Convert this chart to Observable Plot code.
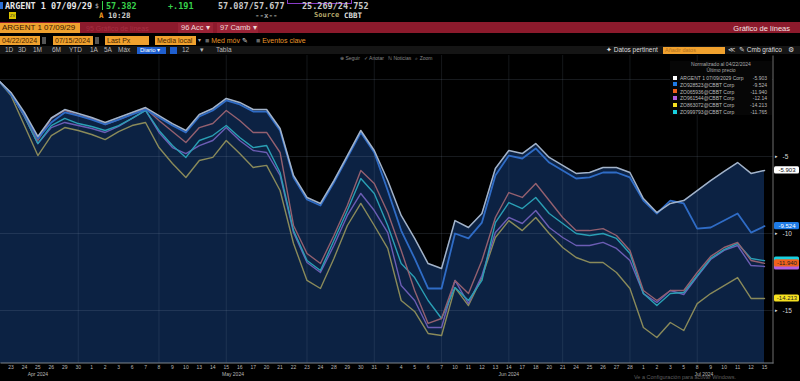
<!DOCTYPE html>
<html><head><meta charset="utf-8">
<script src="https://cdn.jsdelivr.net/npm/d3@7"></script>
<script src="https://cdn.jsdelivr.net/npm/@observablehq/plot@0.6"></script>
<style>
html,body{margin:0;padding:0;background:#000;}
body{width:800px;height:381px;overflow:hidden;position:relative;font-family:"Liberation Sans Narrow","Liberation Sans",Arial,sans-serif;}
.a{position:absolute;white-space:nowrap;line-height:1;}
.m{font-family:"DejaVu Sans Mono","Liberation Mono",monospace;font-weight:bold;font-size:8.5px;}
.ob{background:#f0a12e;color:#4a2600;font-size:7px;height:9px;line-height:9px;padding-left:2px;box-sizing:border-box;}
.t5{font-size:6.5px;color:#bbb;}
#chart{position:absolute;left:0;top:55px;}
#legend{position:absolute;left:670px;top:61px;width:102px;height:54px;background:#060606;font-size:5px;color:#bbb;}
#legend .r{position:absolute;left:3px;width:96px;height:6px;}
#legend .sq{position:absolute;left:0;top:0.5px;width:4px;height:4px;}
#legend .nm{position:absolute;left:7px;top:0;}
#legend .vl{position:absolute;right:2px;top:0;}
</style></head>
<body>
<!-- row 1 -->
<div class="a" style="left:0;top:2px;width:3px;height:7px;background:#2a6fd6"></div>
<div class="a m" style="left:5px;top:1.5px;color:#e6e6e6">ARGENT 1 07/09/29</div>
<div class="a m" style="left:95px;top:2.5px;color:#999;font-size:6.5px">$</div>
<div class="a" style="left:102px;top:1px;width:1px;height:9px;background:#37d14b"></div>
<div class="a m" style="left:106px;top:1.5px;color:#37d14b">57.382</div>
<div class="a m" style="left:168px;top:1.5px;color:#37d14b">+.191</div>
<div class="a m" style="left:218px;top:1.5px;color:#c8c8c8">57.087/57.677</div>
<div class="a" style="left:287px;top:-2px;width:63px;height:4px;border:1px solid #8a3cc8"></div>
<div class="a m" style="left:302px;top:1.5px;color:#c8c8c8">25.269/24.752</div>
<!-- row 2 -->
<div class="a" style="left:9px;top:12px;width:7px;height:7px;background:#d9c300;color:#333;font-size:4px;line-height:7px;text-align:center">ZV</div>
<div class="a m" style="left:99px;top:12px;color:#f09a20;font-size:7.5px">A</div>
<div class="a m" style="left:108px;top:12px;color:#cfcfcf;font-size:7.5px">10:28</div>
<div class="a m" style="left:255px;top:12px;color:#9a9a9a;font-size:7.5px">--x--</div>
<div class="a m" style="left:314px;top:12px;color:#b5a86a;font-size:7px">Source</div>
<div class="a m" style="left:344px;top:12px;color:#ddd;font-size:7.5px">CBBT</div>
<!-- row 3 red bar -->
<div class="a" style="left:0;top:22px;width:800px;height:11px;background:#8c1a2c"></div>
<div class="a ob" style="left:0;top:23px;width:80px;height:10px;line-height:10px;font-size:8px;color:#3a1a00">ARGENT 1 07/09/29</div>
<div class="a" style="left:86px;top:25px;font-size:7px;color:#a52f43">95 Gráfico de líneas</div>
<div class="a" style="left:178px;top:23px;width:35px;height:10px;background:#9a2336;color:#f0d8d8;font-size:7.5px;line-height:10px;padding-left:3px;box-sizing:border-box">96 Acc ▾</div>
<div class="a" style="left:217px;top:23px;width:41px;height:10px;background:#9a2336;color:#f0d8d8;font-size:7.5px;line-height:10px;padding-left:3px;box-sizing:border-box">97 Camb ▾</div>
<div class="a" style="right:10px;top:24.5px;font-size:7.5px;color:#f3e3e3">Gráfico de líneas</div>
<!-- row 4 -->
<div class="a ob" style="left:0;top:36px;width:40px">04/22/2024</div>
<div class="a" style="left:42px;top:37px;width:4px;height:7px;background:#555"></div>
<div class="a ob" style="left:53px;top:36px;width:40px">07/15/2024</div>
<div class="a" style="left:95px;top:37px;width:4px;height:7px;background:#555"></div>
<div class="a ob" style="left:105px;top:36px;width:44px">Last Px</div>
<div class="a ob" style="left:155px;top:36px;width:41px">Media local</div>
<div class="a" style="left:198px;top:37px;font-size:6px;color:#aaa">▾</div>
<div class="a" style="left:205px;top:37px;font-size:7px;color:#e8962a"><span style="color:#666">■</span> Med móv <span style="color:#ddd">✎</span></div>
<div class="a" style="left:256px;top:37px;font-size:7px;color:#e8962a"><span style="color:#666">■</span> Eventos clave</div>
<!-- row 5 -->
<div class="a" style="left:0;top:46px;width:800px;height:8px;background:#151515"></div>
<div class="a t5" style="left:5px;top:47px">1D</div>
<div class="a t5" style="left:18px;top:47px">3D</div>
<div class="a t5" style="left:33px;top:47px">1M</div>
<div class="a t5" style="left:52px;top:47px">6M</div>
<div class="a t5" style="left:69px;top:47px">YTD</div>
<div class="a t5" style="left:90px;top:47px">1A</div>
<div class="a t5" style="left:104px;top:47px">5A</div>
<div class="a t5" style="left:118px;top:47px">Máx</div>
<div class="a" style="left:137px;top:46.5px;width:29px;height:7px;background:#1f5fcf;color:#fff;font-size:6px;line-height:7px;padding-left:3px;box-sizing:border-box">Diario ▾</div>
<div class="a" style="left:170px;top:46.5px;width:7px;height:7px;background:#1f5fcf"></div>
<div class="a t5" style="left:182px;top:47px">12</div>
<div class="a t5" style="left:200px;top:47px">▾</div>
<div class="a t5" style="left:216px;top:47px">Tabla</div>
<div class="a t5" style="left:606px;top:47px;color:#ddd">✦ Datos pertinent</div>
<div class="a" style="left:663px;top:46.5px;width:62px;height:7px;background:#f0a12e;color:#b07020;font-size:5.5px;line-height:7px;padding-left:2px;box-sizing:border-box">Añadir datos</div>
<div class="a t5" style="left:728px;top:47px;color:#ddd">≪</div>
<div class="a t5" style="left:739px;top:47px;color:#ddd">✎ Cmb gráfico</div>
<div class="a t5" style="left:788px;top:47px;color:#ddd">⚙</div>

<div id="chart"></div>

<!-- row 6 toolbar over chart -->
<div class="a" style="left:340px;top:55.5px;font-size:5px;color:#888;z-index:3">⊕ Seguir &nbsp; ✓ Anotar &nbsp; ℕ Noticias &nbsp; ⌕ Zoom</div>
<div id="legend"></div>
<div class="a" style="left:634px;top:375px;font-size:5.5px;color:#5e5e5e;z-index:3">Ve a Configuración para activar Windows.</div>

<script>
// ---- data ----
const dates = [
"2024-04-22","2024-04-23","2024-04-24","2024-04-25","2024-04-26","2024-04-29","2024-04-30",
"2024-05-01","2024-05-02","2024-05-03","2024-05-06","2024-05-07","2024-05-08","2024-05-09","2024-05-10",
"2024-05-13","2024-05-14","2024-05-15","2024-05-16","2024-05-17","2024-05-20","2024-05-21","2024-05-22",
"2024-05-23","2024-05-24","2024-05-28","2024-05-29","2024-05-30","2024-05-31",
"2024-06-03","2024-06-04","2024-06-05","2024-06-06","2024-06-07","2024-06-10","2024-06-11","2024-06-12",
"2024-06-13","2024-06-14","2024-06-17","2024-06-18","2024-06-20","2024-06-21","2024-06-24","2024-06-25",
"2024-06-26","2024-06-27","2024-06-28",
"2024-07-01","2024-07-02","2024-07-03","2024-07-05","2024-07-08","2024-07-09","2024-07-10","2024-07-11",
"2024-07-12","2024-07-15"];
const monthNames = {"04":"Apr 2024","05":"May 2024","06":"Jun 2024","07":"Jul 2024"};

const white  = [0,-0.84,-2.14,-3.70,-2.50,-1.95,-2.21,-2.47,-2.79,-2.47,-2.14,-1.82,-2.34,-2.86,-3.31,-2.27,-1.88,-1.23,-1.49,-1.95,-1.95,-3.18,-6.23,-7.66,-8.05,-6.56,-4.94,-3.31,-4.61,-6.56,-8.83,-10.32,-11.95,-12.27,-9.16,-9.61,-8.70,-5.78,-4.61,-4.81,-4.16,-5.06,-5.58,-6.10,-6.04,-5.71,-5.71,-6.04,-7.73,-8.64,-8.05,-7.86,-7.21,-6.56,-5.97,-5.39,-6.10,-5.903];
const blue   = [0,-0.97,-2.27,-3.83,-2.79,-2.14,-2.34,-2.60,-2.92,-2.60,-2.27,-1.95,-2.47,-2.99,-3.44,-2.40,-2.01,-1.36,-1.62,-2.08,-2.08,-3.31,-6.36,-7.79,-8.18,-6.69,-5.07,-3.44,-4.74,-7.21,-9.81,-11.62,-13.57,-13.57,-10.00,-10.32,-9.29,-6.23,-4.94,-5.13,-4.48,-5.39,-5.91,-6.43,-6.36,-6.04,-6.04,-6.36,-7.86,-8.70,-7.86,-8.05,-9.68,-9.61,-9.16,-8.70,-9.94,-9.524];
const orange = [0,-0.91,-2.34,-3.96,-2.53,-2.01,-2.34,-2.53,-2.92,-2.60,-2.27,-1.88,-2.66,-3.38,-4.09,-3.12,-2.86,-2.01,-2.66,-3.44,-3.44,-4.74,-9.48,-11.30,-11.95,-10.13,-8.18,-5.91,-6.75,-8.64,-11.10,-13.70,-15.84,-15.52,-13.05,-13.90,-11.75,-8.96,-7.34,-7.66,-6.75,-7.86,-8.96,-9.81,-9.81,-9.68,-10.13,-11.10,-13.70,-14.35,-13.70,-13.70,-12.53,-11.49,-10.91,-10.58,-11.75,-11.94];
const purple = [0,-0.91,-2.40,-4.16,-3.12,-2.79,-2.99,-3.18,-3.44,-3.05,-2.53,-2.01,-3.44,-4.42,-4.81,-4.29,-3.96,-3.12,-3.96,-4.61,-4.74,-6.23,-9.94,-11.88,-12.53,-10.78,-8.83,-7.40,-8.51,-9.94,-13.38,-14.35,-16.10,-16.10,-13.05,-14.55,-12.73,-9.94,-8.96,-9.35,-8.51,-9.61,-10.26,-10.78,-10.78,-10.58,-10.97,-11.75,-13.90,-14.48,-13.70,-13.96,-12.79,-11.69,-11.10,-10.78,-12.08,-12.14];
const yellow = [0,-1.04,-2.99,-4.94,-3.64,-3.12,-3.31,-3.57,-3.90,-3.38,-2.99,-2.79,-4.42,-5.45,-6.36,-5.26,-5.06,-3.96,-4.81,-5.71,-5.58,-7.21,-10.65,-13.05,-13.57,-11.62,-9.48,-8.05,-9.48,-10.97,-14.35,-15.06,-16.49,-16.62,-13.51,-14.68,-12.86,-10.26,-9.16,-9.81,-8.96,-10.00,-10.91,-11.56,-11.88,-11.88,-12.53,-13.57,-16.10,-16.75,-15.78,-16.30,-14.55,-13.90,-13.38,-12.86,-14.22,-14.22];
const cyan   = [0,-0.91,-2.40,-4.16,-2.99,-2.53,-2.86,-3.05,-3.31,-2.99,-2.53,-2.01,-3.31,-4.29,-5.06,-3.96,-3.64,-2.99,-3.77,-4.42,-4.29,-6.04,-9.81,-11.75,-12.40,-10.45,-8.51,-6.43,-7.40,-9.48,-11.95,-12.86,-14.35,-15.52,-13.51,-14.35,-13.05,-9.29,-7.99,-8.38,-7.66,-8.70,-9.35,-10.00,-10.13,-10.00,-10.32,-11.30,-13.90,-14.68,-13.90,-13.83,-12.73,-11.62,-11.04,-10.65,-11.62,-11.765];

const seriesNames = ["ARGENT 1 07/09/2029 Corp","ZO928523@CBBT Corp","ZO065936@CBBT Corp","ZO961544@CBBT Corp","ZO863072@CBBT Corp","ZO999793@CBBT Corp"];
const lastLabels  = ["-5.903","-9.524","-11.940","-12.14","-14.213","-11.765"];
const yTicks = [-5,-10,-15];
const gridY  = [0,-5,-10,-15];
const gridDates = ["2024-04-30","2024-05-08","2024-05-15","2024-05-23","2024-05-31","2024-06-07","2024-06-14","2024-06-21","2024-06-28","2024-07-08"];
const floorValue = -30;

// ---- styles ----
const NAVY = "#0c2243";
const keys = ["white","blue","orange","purple","yellow","cyan"];
const values = [white, blue, orange, purple, yellow, cyan];
const lineColor = {white:"#a3b3c9", blue:"#2f6cc6", orange:"#94606f", purple:"#6c5db4", yellow:"#8a8a5a", cyan:"#2a9fb4"};
const swatch    = {white:"#ffffff", blue:"#1e7be6", orange:"#f0601c", purple:"#b060e0", yellow:"#f5e020", cyan:"#18d0e0"};
const tagText   = {white:"#111", blue:"#fff", orange:"#222", purple:"#fff", yellow:"#222", cyan:"#111"};

const rows = keys.flatMap((k, s) => values[s].map((v, i) => ({k, i, v})));
const byKey = k => rows.filter(r => r.k === k);
const dateRows = dates.map((d, i) => ({i, day: String(+d.slice(8, 10)), m: d.slice(5, 7)}));
const months = d3.groups(dateRows, r => r.m).map(([m, rs]) => ({m, label: monthNames[m], mid: d3.mean(rs, r => r.i)}));
const gridIdx = gridDates.map(g => dates.indexOf(g));
const last = dates.length - 1;
const tags = keys.map((k, s) => ({k, i: last, v: values[s][last], label: lastLabels[s]}));
const tagOrder = ["white","blue","cyan","purple","orange","yellow"].map(k => tags.find(t => t.k === k));

const H = 326, MB = 18, MR = 27;
const chart = Plot.plot({
  width: 800, height: H,
  marginTop: 0, marginLeft: 0, marginRight: MR, marginBottom: MB,
  style: {background: "#000", overflow: "visible", fontFamily: "'Liberation Sans Narrow','Liberation Sans',Arial,sans-serif"},
  x: {type: "linear", domain: [0, last], range: [-3, 764], axis: null},
  y: {type: "linear", domain: [0, -15], range: [24, 255], axis: null},
  marks: [
    Plot.areaY(byKey("white"), {x: "i", y1: floorValue, y2: "v", fill: NAVY, clip: true}),
    Plot.ruleY(gridY, {stroke: "#8fa0b8", strokeOpacity: 0.16}),
    Plot.ruleX(gridIdx, {stroke: "#8fa0b8", strokeOpacity: 0.14}),
    Plot.line(byKey("yellow"), {x: "i", y: "v", stroke: lineColor.yellow, strokeWidth: 1.4, clip: true}),
    Plot.line(byKey("purple"), {x: "i", y: "v", stroke: lineColor.purple, strokeWidth: 1.4, clip: true}),
    Plot.line(byKey("cyan"),   {x: "i", y: "v", stroke: lineColor.cyan, strokeWidth: 1.4, clip: true}),
    Plot.line(byKey("orange"), {x: "i", y: "v", stroke: lineColor.orange, strokeWidth: 1.4, clip: true}),
    Plot.line(byKey("blue"),   {x: "i", y: "v", stroke: lineColor.blue, strokeWidth: 1.8, clip: true}),
    Plot.line(byKey("white"),  {x: "i", y: "v", stroke: lineColor.white, strokeWidth: 1.5, clip: true}),
    // bottom axis line and right axis line
    Plot.frame({fill: "#7d838c", stroke: null, insetTop: H - MB - 1}),
    Plot.frame({fill: "#6f6f6f", stroke: null, insetLeft: 800 - MR - 1}),
    // x tick labels (first day sits at the cropped left edge)
    Plot.text(dateRows.filter(r => r.i > 0), {x: "i", text: "day", frameAnchor: "bottom", dy: 5, fontSize: 5, fill: "#b8b8b8"}),
    Plot.text(months, {x: "mid", text: "label", frameAnchor: "bottom", dy: 12, fontSize: 5, fill: "#b8b8b8"}),
    // right axis
    Plot.text(yTicks, {y: d => d, text: () => "▸", frameAnchor: "right", dx: 4, fontSize: 5, fill: "#ddd"}),
    Plot.text(yTicks, {y: d => d, text: d => String(d), frameAnchor: "right", dx: 9, textAnchor: "start", fontSize: 6.5, fill: "#d8d8d8"}),
    // last value tags
    Plot.rect(tagOrder, {x1: "i", x2: "i", y1: "v", y2: "v", insetLeft: 10, insetRight: -35, insetTop: -3.6, insetBottom: -3.6, fill: d => swatch[d.k], rx: 1.5}),
    Plot.text(tagOrder.filter(t => t.k !== "cyan" && t.k !== "purple"), {x: "i", y: "v", text: "label", dx: 22.5, fontSize: 6, fill: d => tagText[d.k]})
  ]
});
document.getElementById("chart").appendChild(chart);

// legend
const lg = document.getElementById("legend");
lg.innerHTML = `<div class="a" style="left:0;width:102px;top:1px;text-align:center;color:#aaa">Normalizado al ${dates[0].slice(5,7)}/${dates[0].slice(8,10)}/${dates[0].slice(0,4)}</div>
<div class="a" style="left:0;width:102px;top:7px;text-align:center;color:#aaa">Último precio</div>`;
keys.forEach((k, s) => {
  const r = document.createElement("div");
  r.className = "r";
  r.style.top = (14 + s * 6.8) + "px";
  r.innerHTML = `<div class="sq" style="background:${swatch[k]}"></div><div class="nm">${seriesNames[s]}</div><div class="vl">${lastLabels[s]}</div>`;
  lg.appendChild(r);
});
</script>
</body></html>
